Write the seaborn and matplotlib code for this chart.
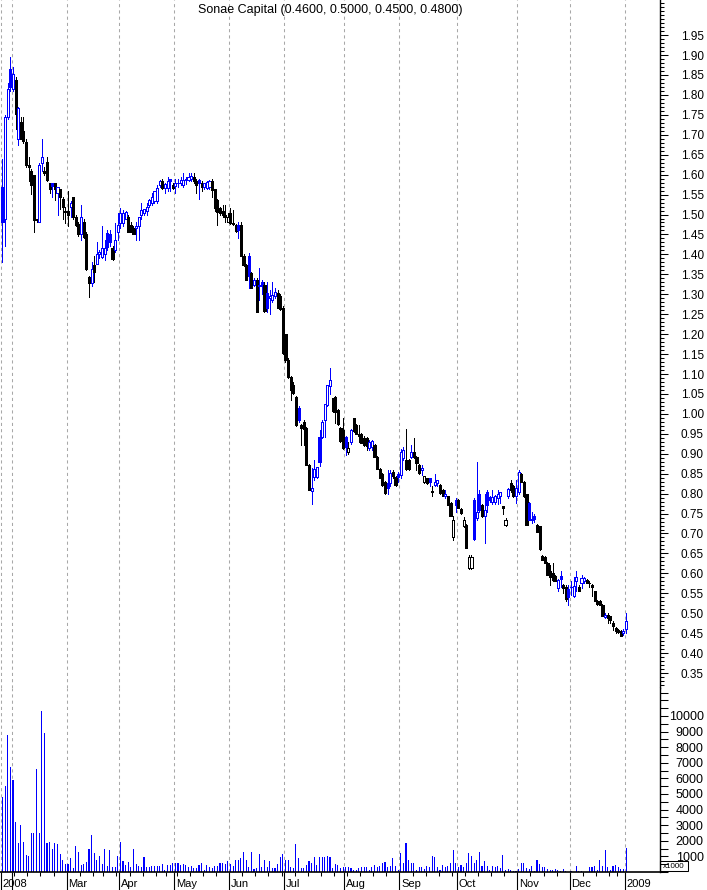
import numpy as np
import pandas as pd
import matplotlib
matplotlib.use("Agg")
import matplotlib.pyplot as plt
import matplotlib.transforms as mtransforms
from matplotlib.ticker import MultipleLocator
from matplotlib.patches import Rectangle
import seaborn as sns

sns.set_theme(style="white")
plt.rcParams['font.family'] = ['Liberation Sans', 'DejaVu Sans']

TITLE = "Sonae Capital (0.4600, 0.5000, 0.4500, 0.4800)"
START, END = "2008-01-28", "2009-01-02"
HOLIDAYS = ["2008-03-21", "2008-04-25", "2008-05-01", "2008-12-25", "2008-12-26", "2009-01-01"]

opens = [
    1.57, 1.49, 1.745, 1.866, 1.816, 1.837, 1.69, 1.732, 1.71, 1.682,
    1.624, 1.61, 1.60, 1.488, 1.482, 1.63, 1.61, 1.632, 1.58, 1.58,
    1.58, 1.555, 1.563, 1.54, 1.508, 1.51, 1.52, 1.544, 1.494, 1.477,
    1.452, 1.48, 1.452, 1.344, 1.327, 1.373, 1.377, 1.40, 1.394, 1.40,
    1.453, 1.45, 1.415, 1.41, 1.457, 1.478, 1.478, 1.49, 1.495, 1.474,
    1.465, 1.465, 1.47, 1.50, 1.505, 1.51, 1.524, 1.53, 1.533, 1.533,
    1.575, 1.585, 1.566, 1.566, 1.59, 1.575, 1.572, 1.578, 1.58, 1.575,
    1.586, 1.587, 1.59, 1.595, 1.585, 1.586, 1.578, 1.57, 1.566, 1.57,
    1.583, 1.563, 1.537, 1.516, 1.51, 1.50, 1.482, 1.503, 1.478, 1.474,
    1.474, 1.474, 1.395, 1.374, 1.395, 1.353, 1.323, 1.336, 1.324, 1.33,
    1.323, 1.303, 1.29, 1.285, 1.295, 1.303, 1.295, 1.265, 1.20, 1.135,
    1.093, 1.072, 1.043, 1.014, 0.972, 0.98, 0.964, 0.872, 0.806, 0.842,
    0.842, 0.943, 0.943, 0.985, 1.022, 1.07, 1.039, 1.043, 1.01, 0.964,
    0.96, 0.943, 0.905, 0.93, 0.989, 0.972, 0.95, 0.95, 0.94, 0.94,
    0.914, 0.918, 0.922, 0.893, 0.863, 0.85, 0.83, 0.826, 0.826, 0.855,
    0.842, 0.85, 0.847, 0.89, 0.884, 0.884, 0.892, 0.905, 0.892, 0.872,
    0.86, 0.83, 0.838, 0.838, 0.806, 0.822, 0.826, 0.822, 0.81, 0.793,
    0.793, 0.776, 0.692, 0.785, 0.784, 0.762, 0.718, 0.722, 0.613, 0.613,
    0.784, 0.74, 0.80, 0.772, 0.743, 0.805, 0.792, 0.78, 0.78, 0.79,
    0.795, 0.77, 0.722, 0.793, 0.826, 0.82, 0.793, 0.805, 0.85, 0.83,
    0.80, 0.776, 0.737, 0.744, 0.722, 0.718, 0.644, 0.642, 0.626, 0.605,
    0.60, 0.594, 0.563, 0.594, 0.572, 0.567, 0.56, 0.565, 0.543, 0.58,
    0.567, 0.576, 0.58, 0.584, 0.576, 0.572, 0.555, 0.53, 0.53, 0.521,
    0.49, 0.495, 0.492, 0.475, 0.463, 0.458, 0.455, 0.45, 0.46,
]
highs = [
    1.64, 1.75, 1.83, 1.895, 1.87, 1.845, 1.77, 1.745, 1.745, 1.69,
    1.645, 1.615, 1.60, 1.49, 1.63, 1.69, 1.62, 1.645, 1.58, 1.58,
    1.58, 1.57, 1.565, 1.545, 1.52, 1.56, 1.535, 1.545, 1.50, 1.48,
    1.523, 1.49, 1.455, 1.345, 1.38, 1.395, 1.432, 1.41, 1.47, 1.436,
    1.46, 1.46, 1.42, 1.478, 1.503, 1.516, 1.512, 1.51, 1.50, 1.48,
    1.47, 1.48, 1.495, 1.528, 1.515, 1.528, 1.54, 1.553, 1.56, 1.575,
    1.587, 1.59, 1.58, 1.595, 1.59, 1.58, 1.59, 1.59, 1.595, 1.603,
    1.595, 1.603, 1.603, 1.603, 1.59, 1.59, 1.585, 1.58, 1.585, 1.587,
    1.59, 1.565, 1.54, 1.52, 1.524, 1.524, 1.505, 1.516, 1.512, 1.475,
    1.48, 1.482, 1.40, 1.375, 1.403, 1.355, 1.34, 1.34, 1.365, 1.335,
    1.33, 1.33, 1.31, 1.33, 1.315, 1.31, 1.30, 1.27, 1.20, 1.14,
    1.095, 1.08, 1.045, 1.02, 0.975, 0.985, 0.966, 0.875, 0.864, 0.884,
    0.865, 0.96, 0.985, 1.026, 1.072, 1.114, 1.04, 1.045, 1.012, 0.966,
    0.99, 0.945, 0.93, 0.962, 0.99, 0.975, 0.972, 0.952, 0.945, 0.942,
    0.935, 0.935, 0.925, 0.895, 0.865, 0.852, 0.832, 0.86, 0.86, 0.86,
    0.845, 0.855, 0.913, 0.918, 0.963, 0.886, 0.922, 0.94, 0.895, 0.875,
    0.872, 0.845, 0.84, 0.84, 0.82, 0.85, 0.835, 0.824, 0.812, 0.81,
    0.795, 0.778, 0.745, 0.79, 0.786, 0.765, 0.742, 0.724, 0.645, 0.645,
    0.79, 0.88, 0.81, 0.775, 0.80, 0.81, 0.795, 0.81, 0.797, 0.81,
    0.802, 0.77, 0.738, 0.815, 0.835, 0.822, 0.835, 0.86, 0.852, 0.832,
    0.80, 0.78, 0.755, 0.75, 0.724, 0.72, 0.646, 0.644, 0.628, 0.62,
    0.626, 0.596, 0.585, 0.605, 0.574, 0.57, 0.57, 0.58, 0.59, 0.605,
    0.57, 0.597, 0.59, 0.586, 0.58, 0.574, 0.557, 0.532, 0.532, 0.523,
    0.50, 0.50, 0.494, 0.48, 0.465, 0.46, 0.457, 0.46, 0.50,
]
lows = [
    1.38, 1.42, 1.74, 1.81, 1.81, 1.715, 1.675, 1.69, 1.68, 1.62,
    1.585, 1.552, 1.456, 1.48, 1.48, 1.61, 1.60, 1.585, 1.555, 1.545,
    1.536, 1.50, 1.515, 1.49, 1.478, 1.47, 1.494, 1.49, 1.47, 1.445,
    1.435, 1.44, 1.36, 1.293, 1.32, 1.33, 1.375, 1.39, 1.39, 1.386,
    1.41, 1.42, 1.386, 1.405, 1.436, 1.466, 1.47, 1.488, 1.457, 1.455,
    1.45, 1.436, 1.436, 1.49, 1.50, 1.50, 1.52, 1.525, 1.53, 1.53,
    1.57, 1.565, 1.553, 1.558, 1.56, 1.565, 1.553, 1.57, 1.575, 1.57,
    1.577, 1.585, 1.585, 1.58, 1.553, 1.54, 1.56, 1.565, 1.565, 1.565,
    1.545, 1.51, 1.474, 1.50, 1.495, 1.482, 1.48, 1.475, 1.474, 1.457,
    1.44, 1.395, 1.37, 1.335, 1.315, 1.315, 1.32, 1.256, 1.285, 1.30,
    1.256, 1.256, 1.25, 1.28, 1.29, 1.265, 1.26, 1.15, 1.13, 1.09,
    1.035, 1.05, 0.97, 0.98, 0.922, 0.922, 0.872, 0.81, 0.775, 0.834,
    0.84, 0.87, 0.94, 0.943, 1.02, 1.05, 1.005, 0.976, 0.972, 0.93,
    0.913, 0.897, 0.90, 0.925, 0.955, 0.95, 0.93, 0.926, 0.92, 0.91,
    0.91, 0.91, 0.892, 0.863, 0.838, 0.82, 0.80, 0.80, 0.82, 0.84,
    0.82, 0.83, 0.84, 0.885, 0.86, 0.86, 0.89, 0.89, 0.86, 0.85,
    0.847, 0.826, 0.825, 0.82, 0.793, 0.818, 0.818, 0.80, 0.793, 0.79,
    0.772, 0.743, 0.684, 0.755, 0.763, 0.75, 0.717, 0.663, 0.61, 0.61,
    0.684, 0.735, 0.755, 0.742, 0.675, 0.755, 0.78, 0.775, 0.775, 0.775,
    0.776, 0.748, 0.72, 0.79, 0.805, 0.792, 0.776, 0.80, 0.83, 0.792,
    0.722, 0.735, 0.726, 0.73, 0.705, 0.659, 0.634, 0.625, 0.596, 0.571,
    0.58, 0.58, 0.555, 0.565, 0.55, 0.53, 0.52, 0.545, 0.54, 0.555,
    0.555, 0.563, 0.575, 0.575, 0.567, 0.542, 0.53, 0.521, 0.52, 0.492,
    0.488, 0.475, 0.475, 0.458, 0.45, 0.45, 0.442, 0.445, 0.45,
]
closes = [
    1.48, 1.745, 1.816, 1.82, 1.853, 1.753, 1.766, 1.69, 1.685, 1.624,
    1.62, 1.573, 1.486, 1.485, 1.624, 1.645, 1.605, 1.586, 1.565, 1.571,
    1.565, 1.57, 1.544, 1.52, 1.506, 1.50, 1.53, 1.494, 1.473, 1.452,
    1.494, 1.444, 1.364, 1.327, 1.364, 1.356, 1.402, 1.405, 1.415, 1.415,
    1.418, 1.43, 1.388, 1.436, 1.474, 1.503, 1.505, 1.507, 1.457, 1.455,
    1.452, 1.47, 1.495, 1.512, 1.515, 1.52, 1.537, 1.545, 1.558, 1.566,
    1.583, 1.566, 1.577, 1.583, 1.585, 1.566, 1.578, 1.58, 1.586, 1.587,
    1.588, 1.595, 1.597, 1.583, 1.575, 1.578, 1.57, 1.58, 1.582, 1.585,
    1.562, 1.516, 1.507, 1.503, 1.50, 1.495, 1.494, 1.478, 1.476, 1.458,
    1.46, 1.395, 1.374, 1.336, 1.345, 1.316, 1.336, 1.256, 1.32, 1.321,
    1.257, 1.265, 1.295, 1.298, 1.306, 1.266, 1.264, 1.152, 1.135, 1.093,
    1.06, 1.052, 0.972, 0.985, 0.964, 0.962, 0.872, 0.81, 0.815, 0.863,
    0.866, 0.88, 0.98, 1.026, 1.072, 1.085, 1.006, 1.004, 0.975, 0.931,
    0.914, 0.918, 0.915, 0.96, 0.956, 0.95, 0.945, 0.926, 0.921, 0.92,
    0.93, 0.932, 0.893, 0.863, 0.838, 0.821, 0.801, 0.813, 0.851, 0.843,
    0.822, 0.842, 0.905, 0.91, 0.863, 0.862, 0.905, 0.892, 0.876, 0.851,
    0.864, 0.843, 0.826, 0.83, 0.805, 0.83, 0.834, 0.801, 0.793, 0.80,
    0.772, 0.743, 0.735, 0.772, 0.763, 0.752, 0.734, 0.663, 0.642, 0.64,
    0.687, 0.755, 0.76, 0.743, 0.76, 0.772, 0.785, 0.792, 0.795, 0.80,
    0.803, 0.765, 0.734, 0.812, 0.808, 0.793, 0.815, 0.855, 0.83, 0.793,
    0.722, 0.735, 0.735, 0.736, 0.705, 0.66, 0.634, 0.626, 0.596, 0.59,
    0.583, 0.582, 0.584, 0.586, 0.563, 0.535, 0.54, 0.567, 0.568, 0.59,
    0.555, 0.588, 0.589, 0.576, 0.575, 0.565, 0.53, 0.522, 0.521, 0.492,
    0.496, 0.487, 0.483, 0.468, 0.455, 0.454, 0.443, 0.455, 0.48,
]
volumes = [  # x1000
    4800, 5500, 8800, 6700, 5900, 3200, 1850, 3000, 1900, 1100,
    1000, 2500, 2500, 6600, 2500, 10300, 8900, 1850, 1900, 1500,
    1850, 1800, 1150, 750, 500, 500, 900, 250, 1650, 1300,
    450, 500, 650, 1500, 2350, 1200, 750, 1000, 500, 1500,
    400, 1400, 300, 300, 1000, 1900, 700, 450, 650, 300,
    1450, 500, 400, 300, 950, 300, 300, 400, 400, 400,
    400, 500, 150, 450, 450, 550, 550, 550, 450, 500,
    450, 300, 400, 250, 250, 450, 550, 150, 450, 300,
    250, 400, 400, 550, 550, 500, 700, 500, 400, 750,
    800, 900, 1300, 800, 300, 1300, 200, 250, 1150, 300,
    800, 300, 700, 250, 250, 500, 950, 1150, 750, 800,
    300, 250, 1800, 900, 250, 250, 450, 700, 550, 950,
    450, 950, 950, 950, 1000, 950, 250, 500, 450, 250,
    300, 300, 300, 250, 150, 150, 250,
    300, 300, 300, 100, 300, 450, 300, 400, 550, 650,
    300, 400, 900, 400, 100, 1200, 550, 1850, 750, 550,
    600, 150, 300, 300, 200, 400, 300, 1050, 950, 300,
    150, 450, 300, 400, 550, 1400, 600, 300, 450, 300,
    600, 1200, 1000, 600, 750, 1300, 400, 700, 400, 150,
    400, 300, 400, 250, 1100, 150, 200, 100, 50, 50,
    200, 550, 550, 250, 200, 400, 50, 750, 500, 300,
    300, 200, 150, 150, 200, 150, 50, 200, 50, 0,
    50, 0, 400, 50, 50, 0, 0, 300, 300, 400,
    100, 750, 400, 1400, 300, 150, 400, 450, 300, 200,
    200, 1550,
]
price_ticks = [0.35, 0.40, 0.45, 0.50, 0.55, 0.60, 0.65, 0.70, 0.75, 0.80, 0.85,
               0.90, 0.95, 1.00, 1.05, 1.10, 1.15, 1.20, 1.25, 1.30, 1.35, 1.40,
               1.45, 1.50, 1.55, 1.60, 1.65, 1.70, 1.75, 1.80, 1.85, 1.90, 1.95]
vol_ticks = [1000, 2000, 3000, 4000, 5000, 6000, 7000, 8000, 9000, 10000]

BLUE, BLACK, GRID = "#0000ff", "#000000", "#a8a8a8"

# ---- dates / trading-day index ----
dates = pd.bdate_range(START, END)
dates = dates[~dates.isin(pd.to_datetime(HOLIDAYS))][:len(closes)]
x = np.arange(len(closes))
months = dates.to_period("M")
starts = [0] + [i for i in range(1, len(dates)) if months[i] != months[i - 1]]
bounds = np.array(starts) - 0.5
mlabels = [d.strftime("%Y") if d.month == 1 else d.strftime("%b") for d in dates[starts]]
weeks = np.array([i for i in range(1, len(dates)) if dates[i].weekday() < dates[i - 1].weekday()]) - 0.5

# ---- figure ----
FW, FH = 707, 890
fig = plt.figure(figsize=(FW / 100, FH / 100), dpi=100)
fig.patch.set_facecolor("white")


def rect(l, t, r, b):
    return [l / FW, 1 - b / FH, (r - l) / FW, (b - t) / FH]


axp = fig.add_axes(rect(0, 0, 660, 688))
axv = fig.add_axes(rect(0, 688, 660, 872))
XLIM = (-0.95, 250.95)

# ---- candlesticks ----
o, h, l, c = map(np.array, (opens, highs, lows, closes))
up = np.r_[True, c[1:] >= c[:-1]]
col = np.where(up, BLUE, BLACK)
face = np.where(c > o, "#ffffff", col)
axp.vlines(x, l, h, colors=col, linewidth=0.72, zorder=2, antialiased=False)
axp.bar(x, np.abs(c - o), bottom=np.minimum(o, c), width=0.8, color=face,
        edgecolor=col, linewidth=0.5, zorder=3, antialiased=False)

# ---- volume ----
vdf = pd.DataFrame({"day": x, "volume": volumes})
sns.barplot(data=vdf, x="day", y="volume", native_scale=True, width=0.42,
            color=BLUE, saturation=1, errorbar=None, linewidth=0, ax=axv)
axv.set_xlabel("")
axv.set_ylabel("")

# ---- month grid lines ----
for ax in (axp, axv):
    for b in bounds:
        ax.axvline(b, color=GRID, linewidth=0.75, linestyle=(0, (3, 3)), zorder=0)
    ax.set_xlim(XLIM)
    ax.grid(False)
    ax.set_facecolor("white")
    for s in ("left", "top"):
        ax.spines[s].set_visible(False)
    ax.spines["right"].set_color("black")
    ax.spines["right"].set_linewidth(1.0)

axp.spines["bottom"].set_visible(False)
axv.spines["bottom"].set_color("black")
axv.spines["bottom"].set_linewidth(1.2)

# ---- price axis ----
axp.set_ylim(0.3125, 2.038)
axp.yaxis.tick_right()
axp.set_yticks(price_ticks)
axp.set_yticklabels([f"{v:.2f}" for v in price_ticks])
axp.yaxis.set_minor_locator(MultipleLocator(0.01))
axp.tick_params(axis="y", which="major", direction="out", length=6, width=0.75,
                pad=25.5, labelsize=8.5, colors="black", right=True, left=False)
axp.tick_params(axis="y", which="minor", direction="out", length=3, width=0.75,
                right=True, left=False, colors="black")
for t in axp.get_yticklabels():
    t.set_horizontalalignment("right")
axp.set_xticks([])

# ---- volume axis ----
axv.set_ylim(0, 11790)
axv.yaxis.tick_right()
axv.set_yticks(vol_ticks)
axv.set_yticklabels([str(v) for v in vol_ticks])
axv.yaxis.set_minor_locator(MultipleLocator(500))
axv.tick_params(axis="y", which="major", direction="out", length=6, width=0.75,
                pad=25.5, labelsize=9, colors="black", right=True, left=False)
axv.tick_params(axis="y", which="minor", direction="out", length=6, width=0.75,
                right=True, left=False, colors="black")
for t in axv.get_yticklabels():
    t.set_horizontalalignment("right")

axv.set_xticks(bounds)
axv.set_xticklabels([])
axv.set_xticks(weeks, minor=True)
axv.tick_params(axis="x", which="major", direction="out", length=13, width=0.8,
                bottom=True, labelbottom=False, colors="black")
axv.tick_params(axis="x", which="minor", direction="out", length=3, width=0.75,
                bottom=True, colors="black")

# month labels, skipping any that would collide with the previous one
trans = mtransforms.blended_transform_factory(axv.transData, fig.transFigure)
last = -1e9
for b, lab in zip(bounds, mlabels):
    if b - last < 10:
        continue
    axv.text(b + 0.6, 1 - 887.3 / FH, lab, transform=trans, ha="left",
             va="baseline", fontsize=8, color="black", clip_on=False)
    last = b

# ---- title and unit box ----
fig.text(330 / FW, 1 - 10.5 / FH, TITLE, ha="center", va="center", fontsize=9, color="black")
fig.patches.append(Rectangle((660 / FW, 1 - 871 / FH), 28 / FW, 10 / FH,
                             transform=fig.transFigure, fill=False,
                             edgecolor="black", linewidth=0.75))
fig.text(674 / FW, 1 - 866 / FH, "x1000", ha="center", va="center", fontsize=5.8, color="black")

fig.savefig("out.png", dpi=100)
